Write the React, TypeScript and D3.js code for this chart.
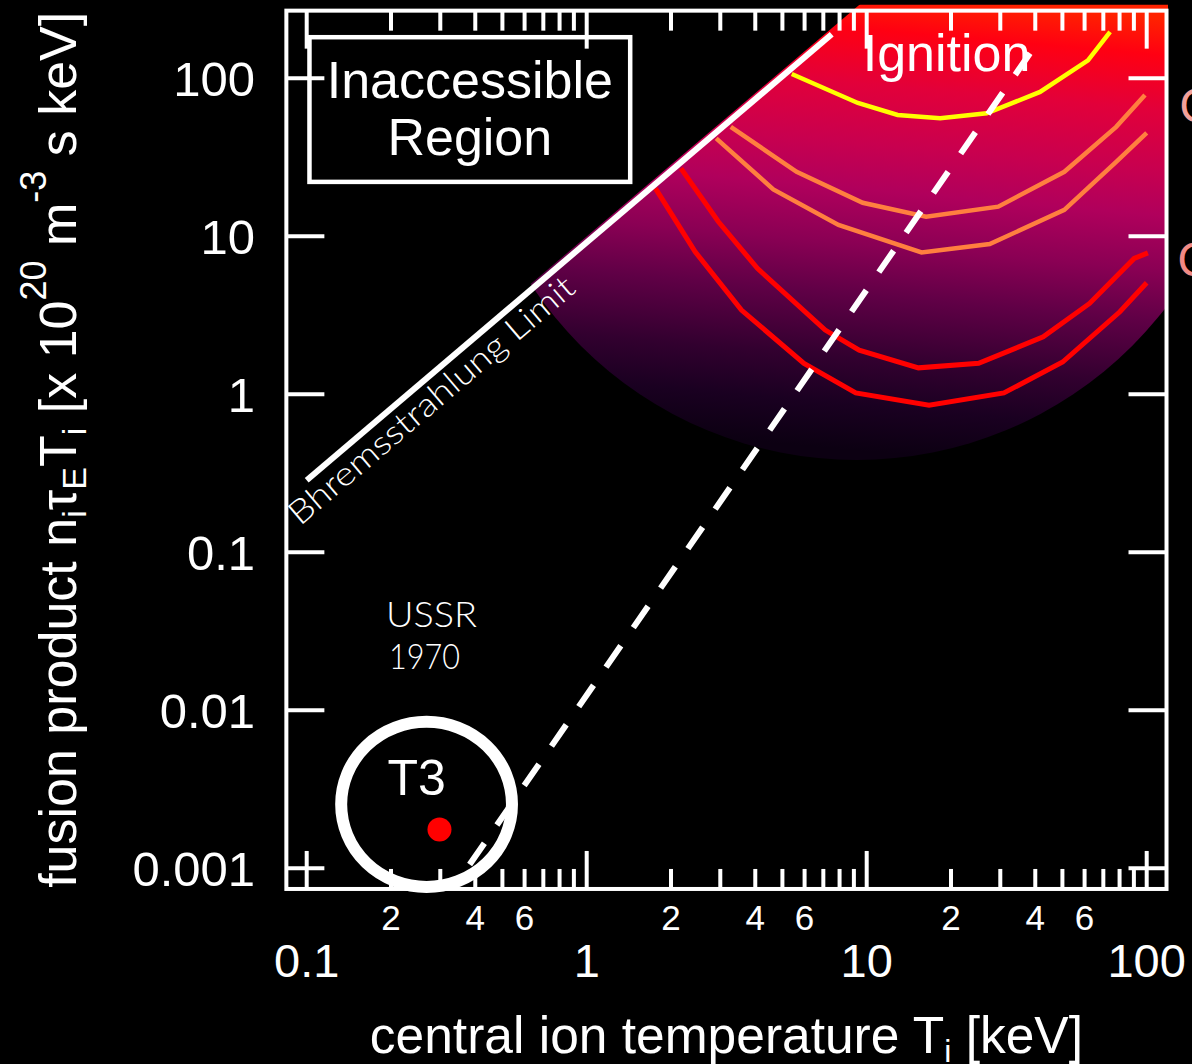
import React from 'react';
import * as d3 from 'd3';

const W = 1192;
const H = 1064;

// Axis ticks and labels
const xMajorTicks = [0.1, 1, 10, 100];
const xMajorLabels = ['0.1', '1', '10', '100'];
const xMinorLabelValues = [0.2, 0.4, 0.6, 2, 4, 6, 20, 40, 60];
const xMinorLabels = ['2', '4', '6', '2', '4', '6', '2', '4', '6'];
const xDecades = [0.1, 1, 10];
const yMajorTicks = [0.001, 0.01, 0.1, 1, 10, 100];
const yMajorLabels = ['0.001', '0.01', '0.1', '1', '10', '100'];
const xFrame = [0.0846, 117.7];
const yFrame = [0.00074, 268];

// Bremsstrahlung limit and ignition line
const bremT = [0.1, 7.5];
const bremP = [0.286, 190];
const ignT = [0.339, 38.3];
const ignP = [0.000778, 144];

// Contours (T in keV, fusion product)
const yellowT = [5.4, 9.3, 12.9, 18.3, 26.8, 41.6, 61.7, 74];
const yellowP = [106.5, 69.8, 58.6, 55.8, 60, 82, 130, 197];
const orange1T = [3.27, 5.62, 9.68, 16.3, 29.5, 50.8, 77.8, 98.6];
const orange1P = [49.3, 25.6, 16.3, 13.3, 15.4, 25.6, 49.3, 78.3];
const orange2T = [2.9, 4.64, 7.93, 15.7, 27.5, 50.8, 77.8, 100];
const orange2P = [41.7, 19.8, 11.8, 7.9, 8.93, 14.7, 29.6, 45.2];
const red1T = [2.17, 2.95, 4.07, 7.11, 9.4, 15.3, 25.1, 42.7, 62.5, 90.2, 101];
const red1P = [26.9, 12.4, 6.27, 2.55, 1.9, 1.47, 1.57, 2.31, 3.76, 7.24, 7.86];
const red2T = [1.76, 2.44, 3.57, 5.97, 9.14, 16.7, 30.9, 50.1, 80.2, 100];
const red2P = [20.1, 7.98, 3.41, 1.57, 1.02, 0.853, 1.02, 1.6, 3.33, 5.08];

// Glow region (center in data units, radius in x-decades)
const glowCenter = [9.2, 113];
const glowRadiusDecades = 1.393;

// T3 point
const t3Point = [0.298, 0.00176];
const t3Ring = [0.268, 0.00254];
const t3RingDecades = [0.305, 0.5225];
const ussrAnchor = [0.192, 0.0335];
const boxCorners = [[0.1023, 182], [1.43, 22.1]];

const gradStops = [
  [0, '#ff2200'],
  [0.08, '#ff0012'],
  [0.2, '#e2003a'],
  [0.33, '#c8004f'],
  [0.43, '#b0005c'],
  [0.55, '#8a0054'],
  [0.66, '#600046'],
  [0.8, '#32002f'],
  [0.9, '#1a0021'],
  [1, '#0c0012'],
];

const FONT = "'Liberation Sans', Arial, Helvetica, sans-serif";
const LIGHT = "Lato, 'Open Sans', sans-serif";

export default function App() {
  const x = d3.scaleLog().domain([0.1, 100]).range([306.7, 1146.7]);
  const y = d3.scaleLog().domain([0.001, 100]).range([868.3, 78.3]);
  const fx0 = x(xFrame[0]);
  const fx1 = x(xFrame[1]);
  const fyB = y(yFrame[0]);
  const fyT = y(yFrame[1]);

  const line = d3
    .line<number[]>()
    .x((d) => x(d[0]))
    .y((d) => y(d[1]));
  const zipped = (a: number[], b: number[]) => a.map((v, i) => [v, b[i]]);

  const contours = [
    { d: zipped(red2T, red2P), c: '#ff0000', w: 5 },
    { d: zipped(red1T, red1P), c: '#ff0000', w: 5 },
    { d: zipped(orange2T, orange2P), c: '#ff7f3f', w: 4.5 },
    { d: zipped(orange1T, orange1P), c: '#ff7f3f', w: 4.5 },
    { d: zipped(yellowT, yellowP), c: '#ffff00', w: 4.5 },
  ];

  // bremsstrahlung line as a power law through its two points
  const slope = Math.log10(bremP[1] / bremP[0]) / Math.log10(bremT[1] / bremT[0]);
  const bremAt = (t: number) => bremP[0] * Math.pow(t / bremT[0], slope);
  const A = [x(0.05), y(bremAt(0.05)) - 6];
  const B = [x(14), y(bremAt(14)) - 6];
  const clipPts = [A, B, [fx1 + 1.5, B[1]], [fx1 + 1.5, 1000], [A[0], 1000]];

  const gcx = x(glowCenter[0]);
  const gcy = y(glowCenter[1]);
  const gr = x(glowCenter[0] * Math.pow(10, glowRadiusDecades)) - gcx;

  const ringCx = x(t3Ring[0]);
  const ringCy = y(t3Ring[1]);
  const ringRx = x(t3Ring[0] * Math.pow(10, t3RingDecades[0])) - ringCx;
  const ringRy = ringCy - y(t3Ring[1] * Math.pow(10, t3RingDecades[1]));

  const bx0 = x(boxCorners[0][0]);
  const by0 = y(boxCorners[0][1]);
  const bx1 = x(boxCorners[1][0]);
  const by1 = y(boxCorners[1][1]);

  const bremX0 = x(bremT[0]);
  const bremY0 = y(bremP[0]);
  const bremX1 = x(bremT[1]);
  const bremY1 = y(bremP[1]);
  const rad = Math.atan2(bremY1 - bremY0, bremX1 - bremX0);
  const angle = (rad * 180) / Math.PI;
  const ax = Math.cos(rad);
  const ay = Math.sin(rad);
  const nx = -Math.sin(rad);
  const ny = Math.cos(rad);
  const along = -35;
  const across = 31;
  const labX = bremX0 + ax * along + nx * across;
  const labY = bremY0 + ay * along + ny * across;

  const minorTicks: number[] = [];
  xDecades.forEach((d) => {
    for (let k = 2; k <= 9; k++) minorTicks.push(d * k);
  });

  const majorLen = 38;
  const minorLen = 20;
  const axisW = 4;

  return (
    <svg
      width={W}
      height={H}
      style={{ position: 'absolute', left: 0, top: 0, background: '#000' }}
    >
      <defs>
        <linearGradient
          id="glow"
          gradientUnits="userSpaceOnUse"
          x1={gcx + 150}
          y1={fyT - 6}
          x2={gcx + 110}
          y2={gcy + gr}
        >
          {gradStops.map((s, i) => (
            <stop key={i} offset={s[0] as number} stopColor={s[1] as string} />
          ))}
        </linearGradient>
        <clipPath id="clipRect">
          <rect x={0} y={fyT - 6} width={fx1 + 1.5} height={H} />
        </clipPath>
        <clipPath id="clipBrem">
          <polygon points={clipPts.map((p) => p.join(',')).join(' ')} />
        </clipPath>
      </defs>
      <rect x={0} y={0} width={W} height={H} fill="#000" />

      {/* glow region */}
      <g clipPath="url(#clipRect)">
        <g clipPath="url(#clipBrem)">
          <circle cx={gcx} cy={gcy} r={gr} fill="url(#glow)" />
        </g>
      </g>

      {/* Inaccessible region box */}
      <rect
        x={bx0}
        y={by0}
        width={bx1 - bx0}
        height={by1 - by0}
        fill="#000"
        stroke="#fff"
        strokeWidth={4.5}
      />
      <text
        x={(bx0 + bx1) / 2}
        y={by0 + 61}
        fill="#fff"
        fontFamily={FONT}
        fontSize={52}
        textAnchor="middle"
      >
        Inaccessible
      </text>
      <text
        x={(bx0 + bx1) / 2}
        y={by0 + 118}
        fill="#fff"
        fontFamily={FONT}
        fontSize={52}
        textAnchor="middle"
      >
        Region
      </text>

      {/* contours */}
      {contours.map((c, i) => (
        <path
          key={i}
          d={line(c.d) || ''}
          fill="none"
          stroke={c.c}
          strokeWidth={c.w}
          strokeLinejoin="miter"
        />
      ))}

      {/* Bremsstrahlung limit */}
      <path
        d={line(zipped(bremT, bremP)) || ''}
        fill="none"
        stroke="#fff"
        strokeWidth={6}
      />
      <text
        x={labX}
        y={labY}
        transform={`rotate(${angle} ${labX} ${labY})`}
        fill="#fff"
        fontFamily={LIGHT}
        fontWeight={300}
        fontSize={33}
        textLength={364}
        lengthAdjust="spacingAndGlyphs"
      >
        Bhremsstrahlung Limit
      </text>

      {/* Ignition line */}
      <path
        d={line(zipped(ignT, ignP).reverse()) || ''}
        fill="none"
        stroke="#fff"
        strokeWidth={6}
        strokeDasharray="26 22"
      />
      <text
        x={x(10) - 4}
        y={fyT + 60}
        fill="#fff"
        fontFamily={FONT}
        fontSize={52}
      >
        Ignition
      </text>

      {/* T3 */}
      <ellipse
        cx={ringCx}
        cy={ringCy}
        rx={ringRx}
        ry={ringRy}
        fill="none"
        stroke="#fff"
        strokeWidth={12}
      />
      <circle cx={x(t3Point[0])} cy={y(t3Point[1])} r={12} fill="#ff0000" />
      <text
        x={ringCx - 10}
        y={ringCy - 9}
        fill="#fff"
        fontFamily={FONT}
        fontSize={50}
        textAnchor="middle"
      >
        T3
      </text>
      <text
        x={x(ussrAnchor[0])}
        y={y(ussrAnchor[1])}
        fill="#fff"
        fontFamily={LIGHT}
        fontWeight={300}
        fontSize={36}
      >
        <tspan x={x(ussrAnchor[0])} textLength={91} lengthAdjust="spacingAndGlyphs">
          USSR
        </tspan>
        <tspan x={x(ussrAnchor[0]) + 3} dy={42} textLength={71} lengthAdjust="spacingAndGlyphs">
          1970
        </tspan>
      </text>

      {/* frame */}
      <rect
        x={fx0}
        y={fyT}
        width={fx1 - fx0}
        height={fyB - fyT}
        fill="none"
        stroke="#fff"
        strokeWidth={axisW}
      />
      {/* x ticks */}
      {xMajorTicks.map((t, i) => (
        <g key={'xm' + i}>
          <line x1={x(t)} x2={x(t)} y1={fyB} y2={fyB - majorLen} stroke="#fff" strokeWidth={axisW} />
          <line x1={x(t)} x2={x(t)} y1={fyT} y2={fyT + majorLen} stroke="#fff" strokeWidth={axisW} />
          <text
            x={x(t)}
            y={977}
            fill="#fff"
            fontFamily={FONT}
            fontSize={47}
            textAnchor="middle"
          >
            {xMajorLabels[i]}
          </text>
        </g>
      ))}
      {minorTicks.map((t, i) => (
        <g key={'xn' + i}>
          <line x1={x(t)} x2={x(t)} y1={fyB} y2={fyB - minorLen} stroke="#fff" strokeWidth={axisW} />
          <line x1={x(t)} x2={x(t)} y1={fyT} y2={fyT + minorLen} stroke="#fff" strokeWidth={axisW} />
        </g>
      ))}
      {xMinorLabelValues.map((t, i) => (
        <text
          key={'xl' + i}
          x={x(t)}
          y={930}
          fill="#fff"
          fontFamily={FONT}
          fontSize={35}
          textAnchor="middle"
        >
          {xMinorLabels[i]}
        </text>
      ))}
      {/* y ticks */}
      {yMajorTicks.map((t, i) => (
        <g key={'ym' + i}>
          <line x1={fx0} x2={fx0 + majorLen} y1={y(t)} y2={y(t)} stroke="#fff" strokeWidth={axisW} />
          <line x1={fx1} x2={fx1 - majorLen} y1={y(t)} y2={y(t)} stroke="#fff" strokeWidth={axisW} />
          <text
            x={255}
            y={y(t) + 18}
            fill="#fff"
            fontFamily={FONT}
            fontSize={49}
            textAnchor="end"
          >
            {yMajorLabels[i]}
          </text>
        </g>
      ))}

      {/* partially visible labels at the right edge */}
      <text x={fx1 + 13} y={y(100) + 44} fill="#f4a09a" fontFamily={FONT} fontSize={48}>
        Q
      </text>
      <text x={fx1 + 11} y={y(10) + 40} fill="#f28a85" fontFamily={FONT} fontSize={48}>
        Q
      </text>

      {/* axis titles */}
      <text
        x={(fx0 + fx1) / 2}
        y={1053}
        fill="#fff"
        fontFamily={FONT}
        fontSize={51.5}
        textAnchor="middle"
      >
        central ion temperature T
        <tspan fontSize={32} dy={9}>
          i
        </tspan>
        <tspan dy={-9}> [keV]</tspan>
      </text>
      <text
        transform={`translate(76 ${(fyT + fyB) / 2}) rotate(-90)`}
        x={0}
        y={0}
        fill="#fff"
        fontFamily={FONT}
        fontSize={52}
        textAnchor="middle"
      >
        fusion product n
        <tspan fontSize={34} dy={10}>
          i
        </tspan>
        <tspan dy={-10}>τ</tspan>
        <tspan fontSize={34} dy={10}>
          E
        </tspan>
        <tspan dy={-10}>T</tspan>
        <tspan fontSize={34} dy={10}>
          i
        </tspan>
        <tspan dy={-10}> [x 10</tspan>
        <tspan fontSize={36} dy={-30}>
          20
        </tspan>
        <tspan dy={30}> m</tspan>
        <tspan fontSize={36} dy={-30}>
          -3
        </tspan>
        <tspan dy={30}> s keV]</tspan>
      </text>
    </svg>
  );
}
